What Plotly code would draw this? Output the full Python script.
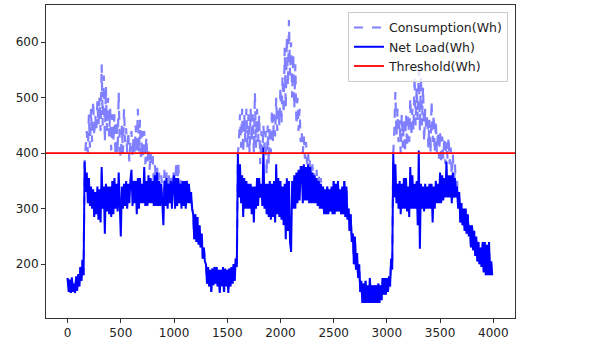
import plotly.graph_objects as go

# sample positions (every 10 units)
steps = list(range(0, 4000, 10))

net_load = [
    175, 150, 172, 148, 176, 150, 165, 148, 178, 152,
    182, 160, 195, 170, 208, 180, 385, 330, 365, 310,
    355, 305, 340, 300, 335, 285, 330, 290, 340, 280,
    335, 275, 375, 300, 340, 255, 345, 295, 340, 290,
    340, 285, 350, 290, 355, 300, 345, 295, 365, 305,
    250, 340, 300, 345, 305, 350, 300, 345, 310, 350,
    370, 305, 350, 310, 350, 290, 355, 300, 355, 310,
    345, 310, 375, 305, 350, 305, 360, 310, 355, 310,
    350, 305, 360, 305, 365, 305, 350, 305, 345, 310,
    270, 350, 305, 355, 300, 345, 310, 350, 300, 345,
    360, 300, 355, 305, 355, 310, 345, 300, 350, 305,
    350, 300, 350, 310, 345, 310, 330, 300, 290, 245,
    290, 240, 285, 235, 270, 230, 255, 210, 230, 205,
    200, 165, 195, 160, 190, 150, 192, 162, 195, 165,
    195, 160, 190, 148, 190, 160, 195, 150, 192, 160,
    190, 148, 192, 160, 195, 165, 200, 170, 210, 195,
    400, 320, 380, 310, 360, 285, 355, 300, 350, 300,
    345, 300, 345, 290, 340, 275, 340, 300, 355, 305,
    355, 320, 345, 305, 410, 300, 345, 290, 345, 285,
    350, 280, 345, 285, 350, 275, 380, 290, 355, 285,
    350, 280, 340, 270, 345, 245, 355, 260, 350, 240,
    222, 350, 300, 360, 300, 365, 310, 370, 315, 375,
    375, 310, 380, 315, 375, 315, 380, 310, 375, 310,
    365, 310, 360, 310, 355, 305, 350, 300, 345, 300,
    340, 290, 335, 290, 340, 290, 335, 295, 340, 290,
    350, 290, 345, 295, 350, 295, 335, 290, 340, 290,
    350, 285, 340, 280, 300, 260, 290, 240, 255, 200,
    250, 190, 220, 175, 200, 150, 170, 130, 165, 130,
    170, 130, 162, 130, 175, 130, 162, 130, 162, 130,
    162, 130, 165, 130, 162, 135, 175, 145, 175, 145,
    175, 150, 178, 160, 210, 190, 400, 320, 380, 310,
    345, 300, 350, 290, 345, 300, 355, 300, 355, 295,
    340, 285, 375, 300, 360, 300, 345, 300, 350, 270,
    405, 228, 345, 300, 340, 295, 345, 300, 340, 300,
    345, 300, 345, 275, 340, 300, 350, 310, 345, 310,
    365, 310, 360, 315, 355, 320, 385, 320, 360, 320,
    360, 310, 365, 320, 355, 320, 340, 300, 330, 275,
    310, 270, 300, 260, 300, 255, 290, 250, 270, 230,
    270, 225, 260, 215, 250, 205, 240, 200, 230, 195,
    240, 185, 240, 180, 235, 180, 240, 180, 205, 180,
]

consumption = [
    175, 150, 172, 148, 176, 150, 165, 148, 178, 152,
    182, 160, 195, 170, 208, 180, 385, 420, 440, 400,
    470, 410, 480, 420, 495, 430, 470, 440, 495, 450,
    500, 440, 560, 450, 540, 420, 520, 440, 500, 430,
    480, 405, 470, 420, 470, 395, 460, 400, 510, 410,
    390, 450, 400, 480, 420, 445, 400, 440, 385, 420,
    440, 395, 430, 400, 450, 400, 480, 400, 460, 390,
    440, 390, 440, 380, 430, 385, 410, 370, 400, 380,
    395, 340, 380, 350, 380, 330, 365, 320, 360, 330,
    310, 370, 320, 365, 320, 360, 330, 360, 320, 350,
    370, 310, 385, 320, 385, 320, 355, 310, 355, 310,
    350, 300, 350, 310, 345, 310, 330, 300, 290, 245,
    290, 240, 285, 235, 270, 230, 255, 210, 230, 205,
    200, 165, 195, 160, 190, 150, 192, 162, 195, 165,
    195, 160, 190, 148, 190, 160, 195, 150, 192, 160,
    190, 148, 192, 160, 195, 165, 200, 170, 210, 195,
    400, 420, 470, 410, 480, 400, 470, 420, 480, 410,
    470, 400, 480, 420, 470, 400, 510, 410, 480, 420,
    470, 380, 440, 400, 450, 410, 440, 360, 450, 380,
    450, 400, 480, 420, 470, 430, 500, 440, 480, 450,
    520, 450, 540, 470, 590, 480, 610, 520, 640, 540,
    600, 500, 580, 480, 560, 450, 500, 440, 480, 420,
    440, 400, 430, 390, 420, 380, 400, 370, 390, 360,
    380, 350, 370, 330, 370, 320, 360, 320, 355, 300,
    340, 290, 335, 290, 340, 290, 335, 295, 340, 290,
    350, 290, 345, 295, 350, 295, 335, 290, 340, 290,
    350, 285, 340, 280, 300, 260, 290, 240, 255, 200,
    250, 190, 220, 175, 200, 150, 170, 130, 165, 130,
    170, 130, 162, 130, 175, 130, 162, 130, 162, 130,
    162, 130, 165, 130, 162, 135, 175, 145, 175, 145,
    175, 150, 178, 160, 210, 190, 400, 440, 510, 430,
    480, 420, 460, 400, 470, 410, 460, 400, 470, 410,
    470, 420, 500, 430, 480, 440, 540, 450, 520, 460,
    565, 440, 540, 450, 520, 420, 480, 440, 470, 410,
    460, 400, 495, 420, 470, 400, 460, 400, 440, 390,
    440, 380, 430, 390, 430, 380, 420, 390, 430, 380,
    410, 360, 400, 340, 380, 330, 350, 300, 330, 275,
    310, 270, 300, 260, 300, 255, 290, 250, 270, 230,
    270, 225, 260, 215, 250, 205, 240, 200, 230, 195,
    240, 185, 240, 180, 235, 180, 240, 180, 205, 180,
]

threshold = 400
x_ticks = [0, 500, 1000, 1500, 2000, 2500, 3000, 3500, 4000]
y_ticks = [200, 300, 400, 500, 600]

fig = go.Figure()
fig.add_trace(go.Scatter(
    x=steps, y=consumption, mode="lines", name="Consumption(Wh)",
    line=dict(color="rgba(0,0,255,0.5)", width=2.2, dash="dash"),
))
fig.add_trace(go.Scatter(
    x=steps, y=net_load, mode="lines", name="Net Load(Wh)",
    line=dict(color="#0000ff", width=2),
))
fig.add_shape(
    type="line", xref="paper", x0=0, x1=1, yref="y", y0=threshold, y1=threshold,
    line=dict(color="#ff0000", width=1.8), layer="above",
    showlegend=True, name="Threshold(Wh)",
)

axis_common = dict(
    showgrid=False, zeroline=False, showline=True, mirror=True,
    linecolor="#333333", linewidth=1, ticks="outside", ticklen=4,
    tickcolor="#333333", tickfont=dict(family="DejaVu Sans", size=12, color="#222222"),
)
fig.update_xaxes(range=[-203, 4204], tickvals=x_ticks, **axis_common)
fig.update_yaxes(range=[103, 667], tickvals=y_ticks, **axis_common)

fig.update_layout(
    width=608, height=345,
    margin=dict(l=46, r=93, t=5, b=27),
    paper_bgcolor="white", plot_bgcolor="white",
    legend=dict(
        x=0.985, y=0.978, xanchor="right", yanchor="top",
        bgcolor="rgba(255,255,255,0.8)", bordercolor="#cccccc", borderwidth=1,
        font=dict(family="DejaVu Sans", size=12.5, color="#222222"),
        tracegroupgap=0, itemwidth=30,
    ),
    showlegend=True,
)

fig.write_html(
    "out.html",
    config={"displayModeBar": False},
    post_script="document.body.style.margin='0';document.body.style.overflow='hidden';",
)
